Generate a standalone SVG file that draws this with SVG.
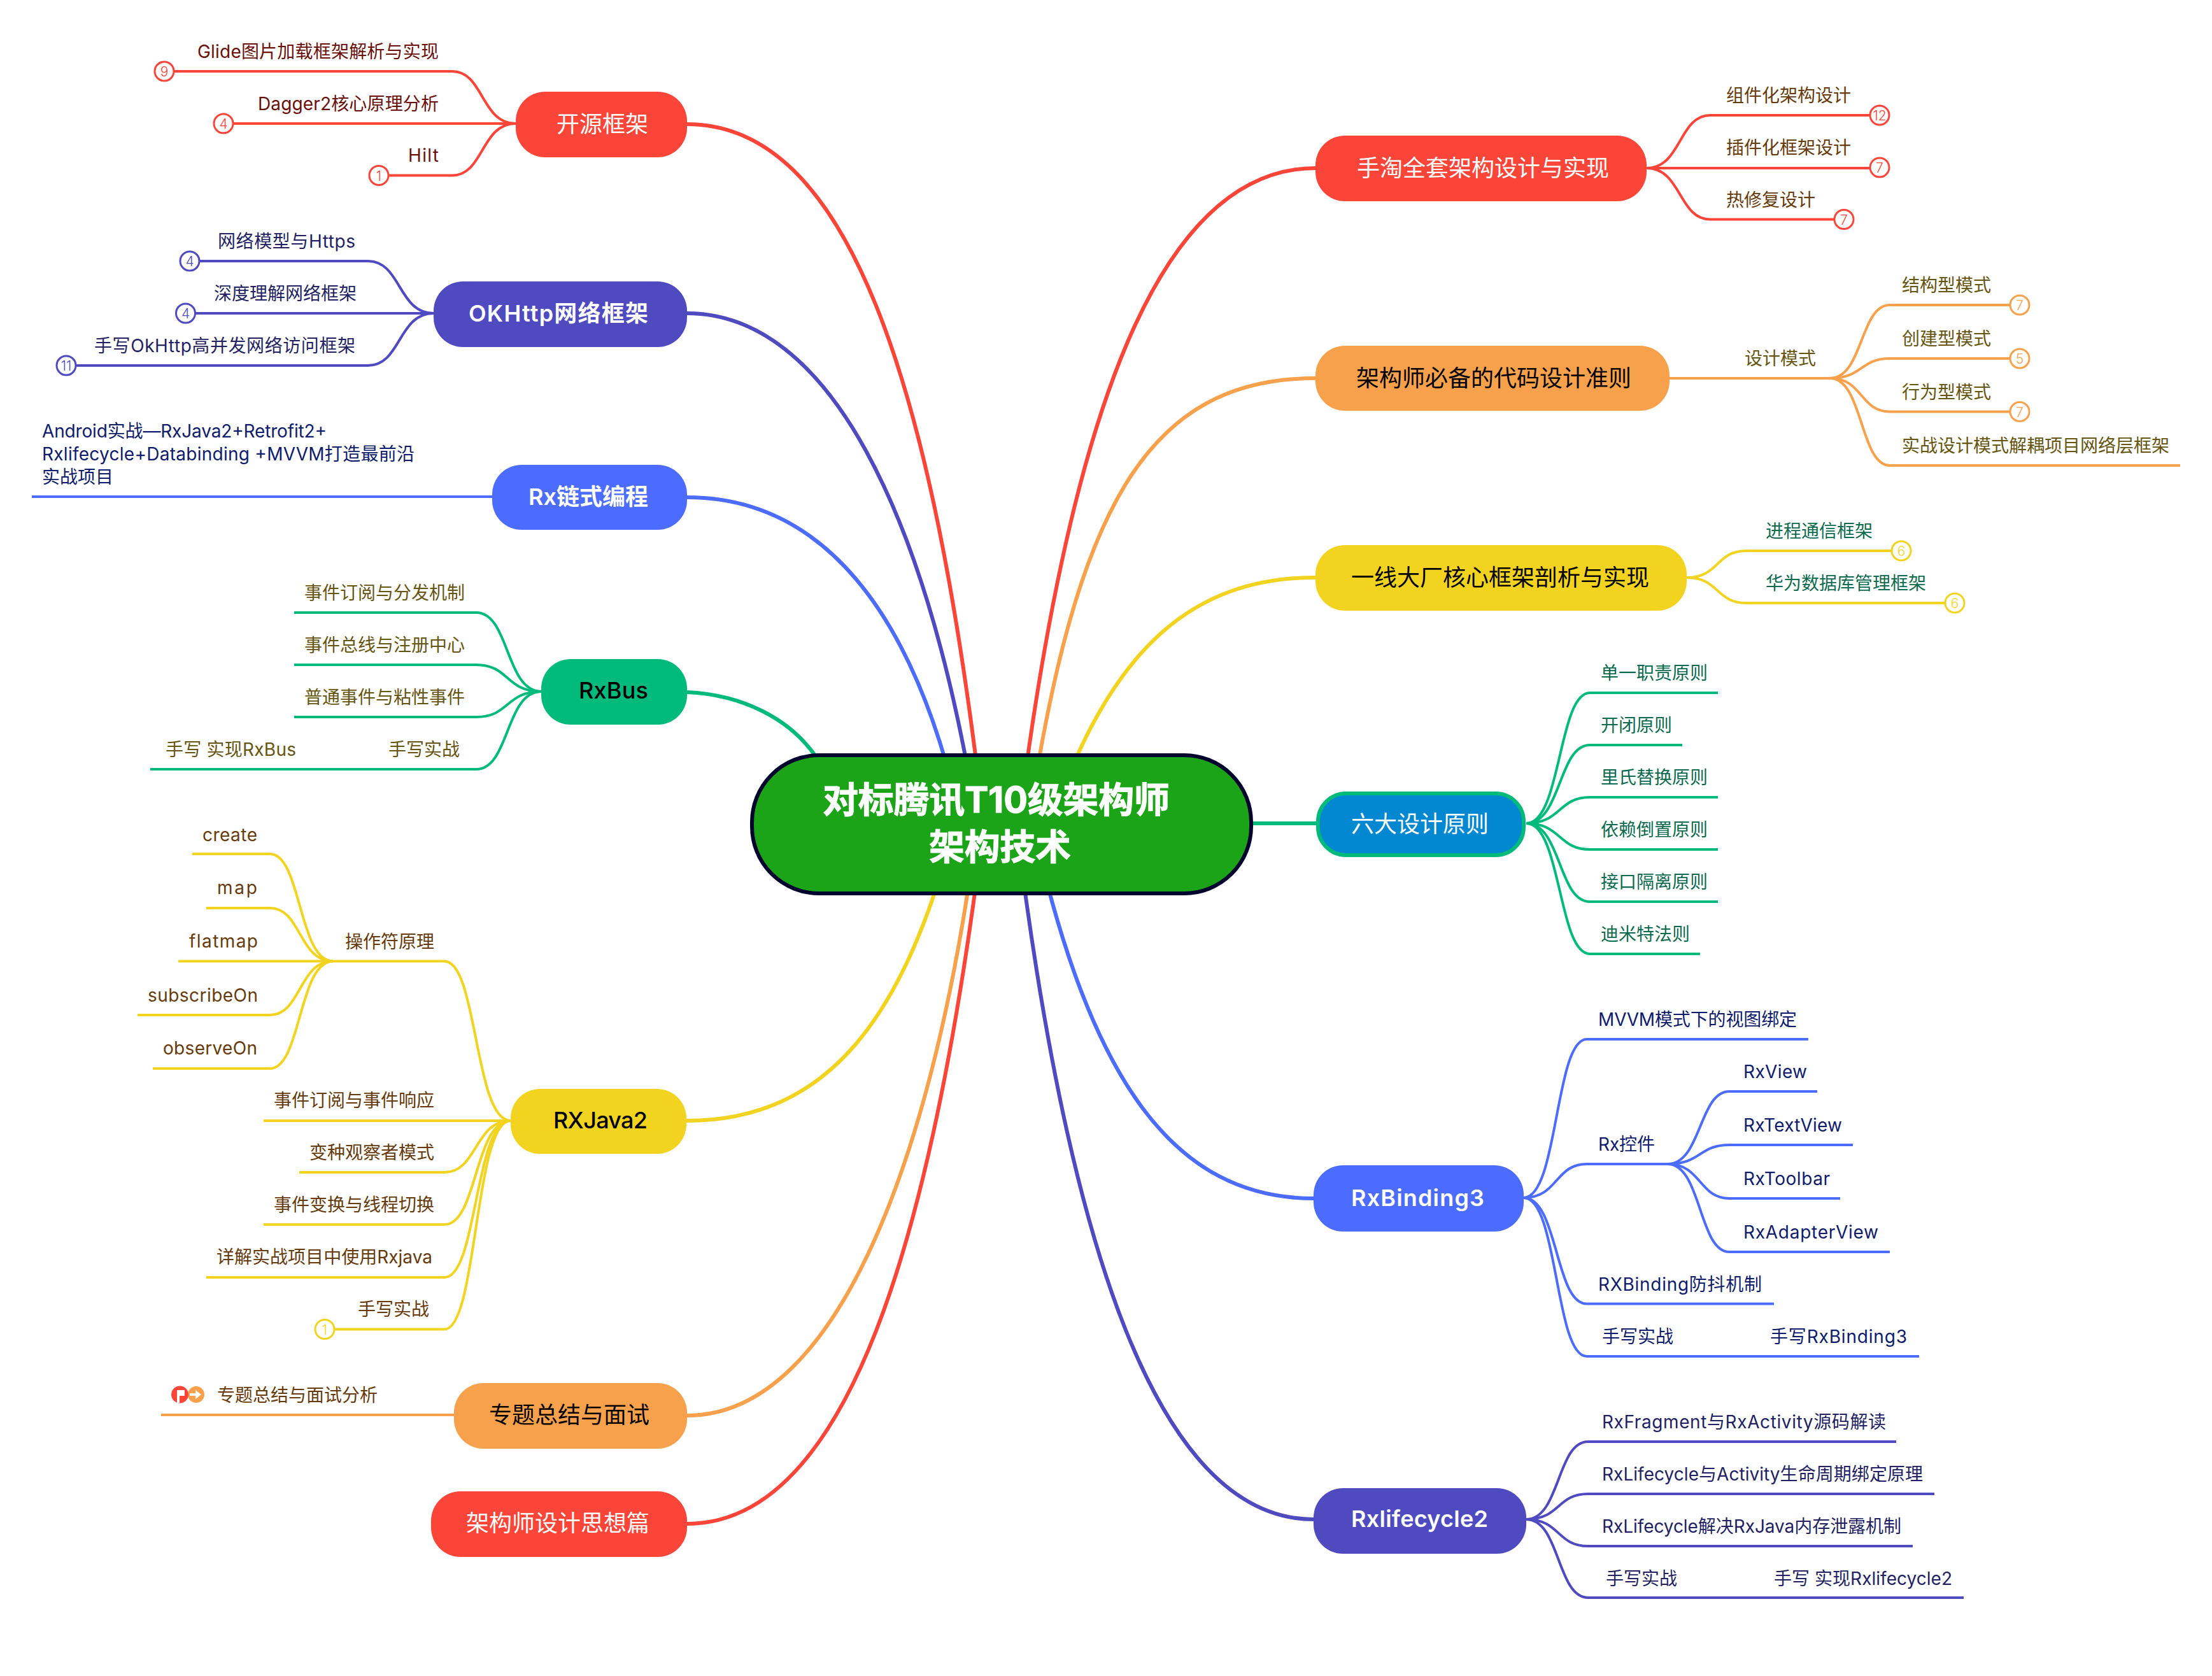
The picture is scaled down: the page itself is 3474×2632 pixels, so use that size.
<svg xmlns="http://www.w3.org/2000/svg" width="3474" height="2632" viewBox="0 0 3474 2632">
<style>
text{font-family:"Inter","Noto Sans CJK SC","Noto Sans",sans-serif}
.c{fill:none;stroke-linecap:butt;stroke-width:4}
.m{fill:none;stroke-width:6}
.red{stroke:#fc4539}.ind{stroke:#4f4abf}.blu{stroke:#4c6cff}.grn{stroke:#00ba7c}.yel{stroke:#f2d420}.org{stroke:#f7a14c}
.t{font-size:28px}
.n{font-size:36px;fill:#000}
.w{fill:#fff}
.b{font-weight:600}
.rt{font-size:56px;font-weight:700;fill:#fff;stroke:#fff;stroke-width:1}
.tr{fill:#6b0f0a}.ti{fill:#231f63}.tb{fill:#0e1c6b}.to{fill:#665510}.ty{fill:#663a0a}.tg{fill:#0c6b4f}
.bd{fill:#fff;stroke-width:3}
.bt{font-size:21px;font-weight:300;text-anchor:middle}
.nr{fill:#fc4539}.ni{fill:#4f4abf}.nb{fill:#4c6cff}.ng{fill:#00ba7c}.ny{fill:#f2d420}.no{fill:#f7a14c}
</style>
<rect width="3474" height="2632" fill="#fff"/>
<g id="connectors">
<path class="m red" d="M1079,195C1330,195 1465,590 1545,1294"/>
<path class="m ind" d="M1079,492C1300,492 1455,800 1535,1294"/>
<path class="m blu" d="M1079,781C1285,781 1435,950 1510,1294"/>
<path class="m grn" d="M1079,1087C1150,1090 1250,1120 1297,1215"/>
<path class="m yel" d="M1078,1760C1300,1760 1420,1600 1500,1294"/>
<path class="m org" d="M1079,2223C1320,2223 1470,1800 1535,1294"/>
<path class="m red" d="M1079,2393C1330,2393 1465,1950 1545,1294"/>
<path class="m red" d="M2066,264C1820,264 1680,650 1600,1294"/>
<path class="m org" d="M2066,594C1800,594 1690,800 1615,1294"/>
<path class="m yel" d="M2066,907C1880,907 1745,1010 1650,1294"/>
<path class="m grn" d="M1968,1293H2067"/>
<path class="m blu" d="M2063,1882C1845,1882 1712,1700 1622,1294"/>
<path class="m ind" d="M2063,2386C1816,2386 1676,1950 1596,1294"/>

<path class="c red" d="M810,194C755,194 760,112 710,112H274"/>
<path class="c red" d="M810,194H367"/>
<path class="c red" d="M810,194C755,194 760,275.500 710,275.500H611"/>
<path class="c ind" d="M681,492C625,492 630,410 578,410H314"/>
<path class="c ind" d="M681,492H307"/>
<path class="c ind" d="M681,492C625,492 630,574 578,574H120"/>
<path class="c blu" d="M773,780H50"/>
<path class="c grn" d="M850,1086C794,1086 800,962 748,962H462"/>
<path class="c grn" d="M850,1086C794,1086 800,1044 748,1044H462"/>
<path class="c grn" d="M850,1086C794,1086 800,1126 748,1126H462"/>
<path class="c grn" d="M850,1086C794,1086 800,1208 748,1208H236"/>
<path class="c yel" d="M802,1760C745,1760 750,1509.500 698,1509.500H523"/>
<path class="c yel" d="M523,1509.500C469,1509.500 473,1341 424,1341H302"/>
<path class="c yel" d="M523,1509.500C469,1509.500 473,1426 424,1426H324"/>
<path class="c yel" d="M523,1509.500H280"/>
<path class="c yel" d="M523,1509.500C469,1509.500 473,1594 424,1594H216"/>
<path class="c yel" d="M523,1509.500C469,1509.500 473,1678 424,1678H240"/>
<path class="c yel" d="M802,1760H414"/>
<path class="c yel" d="M802,1760C745,1760 750,1841 698,1841H470"/>
<path class="c yel" d="M802,1760C745,1760 750,1923 698,1923H414"/>
<path class="c yel" d="M802,1760C745,1760 750,2006 698,2006H324"/>
<path class="c yel" d="M802,1760C745,1760 750,2087.500 698,2087.500H526"/>
<path class="c org" d="M713,2222H253"/>
<path class="c red" d="M2586,264C2641,264 2636,181 2686,181H2936"/>
<path class="c red" d="M2586,264H2936"/>
<path class="c red" d="M2586,264C2641,264 2636,344.500 2686,344.500H2880"/>
<path class="c org" d="M2622,594H2874"/>
<path class="c org" d="M2874,594C2926,594 2921,479 2968,479H3156"/>
<path class="c org" d="M2874,594C2926,594 2921,563 2968,563H3156"/>
<path class="c org" d="M2874,594C2926,594 2921,646.500 2968,646.500H3156"/>
<path class="c org" d="M2874,594C2926,594 2921,731 2968,731H3424"/>
<path class="c yel" d="M2649,907C2700,907 2695,865 2742,865H2970"/>
<path class="c yel" d="M2649,907C2700,907 2695,947 2742,947H3054"/>
<path class="c grn" d="M2397,1293C2452,1293 2447,1088 2497,1088H2698"/>
<path class="c grn" d="M2397,1293C2452,1293 2447,1170 2497,1170H2642"/>
<path class="c grn" d="M2397,1293C2452,1293 2447,1252 2497,1252H2698"/>
<path class="c grn" d="M2397,1293C2452,1293 2447,1334 2497,1334H2698"/>
<path class="c grn" d="M2397,1293C2452,1293 2447,1416 2497,1416H2698"/>
<path class="c grn" d="M2397,1293C2452,1293 2447,1498 2497,1498H2670"/>
<path class="c blu" d="M2393,1881C2447,1881 2442,1632 2492,1632H2840"/>
<path class="c blu" d="M2393,1881C2447,1881 2442,1828 2492,1828H2619"/>
<path class="c blu" d="M2619,1828C2672,1828 2668,1714 2716,1714H2854"/>
<path class="c blu" d="M2619,1828C2672,1828 2668,1798 2716,1798H2910"/>
<path class="c blu" d="M2619,1828C2672,1828 2668,1882 2716,1882H2890"/>
<path class="c blu" d="M2619,1828C2672,1828 2668,1966 2716,1966H2968"/>
<path class="c blu" d="M2393,1881C2447,1881 2442,2047.500 2492,2047.500H2786"/>
<path class="c blu" d="M2393,1881C2447,1881 2442,2130 2492,2130H3014"/>
<path class="c ind" d="M2397,2386C2450,2386 2445,2264 2494,2264H2978"/>
<path class="c ind" d="M2397,2386C2450,2386 2445,2346 2494,2346H3038"/>
<path class="c ind" d="M2397,2386C2450,2386 2445,2428 2494,2428H3004"/>
<path class="c ind" d="M2397,2386C2450,2386 2445,2509 2494,2509H3084"/>
</g>

<g id="root">
<rect x="1181" y="1186" width="784" height="217" rx="105" fill="#1ba418" stroke="#02022e" stroke-width="6"/>
<text class="rt" x="1292" y="1276" textLength="545">对标腾讯T10级架构师</text>
<text class="rt" x="1459" y="1350" textLength="223">架构技术</text>
</g>

<g id="n-kaiyuan"><rect class="nr" x="810" y="144" width="269" height="103" rx="46"/><text class="n w" x="874" y="208">开源框架</text></g>
<g id="n-okhttp"><rect class="ni" x="681" y="442" width="398" height="103" rx="46"/><text class="n w b" x="736" y="505" textLength="282">OKHttp网络框架</text></g>
<g id="n-rx"><rect class="nb" x="773" y="730" width="306" height="102" rx="46"/><text class="n w b" x="830" y="793" textLength="188">Rx链式编程</text></g>
<g id="n-rxbus"><rect class="ng" x="850" y="1035" width="229" height="103" rx="46"/><text class="n" font-weight="500" x="909" y="1097" textLength="109">RxBus</text></g>
<g id="n-rxjava"><rect class="ny" x="802" y="1710" width="276" height="102" rx="46"/><text class="n" font-weight="500" x="869" y="1772" textLength="148">RXJava2</text></g>
<g id="n-zhuanti"><rect class="no" x="713" y="2172" width="366" height="103" rx="46"/><text class="n" x="768" y="2235">专题总结与面试</text></g>
<g id="n-sixiang"><rect class="nr" x="677" y="2342" width="402" height="103" rx="46"/><text class="n w" x="732" y="2405">架构师设计思想篇</text></g>
<g id="n-shoutao"><rect class="nr" x="2066" y="213" width="520" height="103" rx="46"/><text class="n w" x="2131" y="277">手淘全套架构设计与实现</text></g>
<g id="n-jiagou"><rect class="no" x="2066" y="543" width="556" height="102" rx="46"/><text class="n" x="2130" y="607">架构师必备的代码设计准则</text></g>
<g id="n-yixian"><rect class="ny" x="2066" y="856" width="583" height="103" rx="46"/><text class="n" x="2122" y="920">一线大厂核心框架剖析与实现</text></g>
<g id="n-liuda"><rect x="2070" y="1246" width="323" height="97" rx="44" fill="#0288d1" stroke="#00ba7c" stroke-width="6"/><text class="n w" x="2122" y="1307">六大设计原则</text></g>
<g id="n-rxbinding"><rect class="nb" x="2063" y="1830" width="330" height="104" rx="46"/><text class="n w b" x="2122" y="1894" textLength="209">RxBinding3</text></g>
<g id="n-rxlifecycle"><rect class="ni" x="2063" y="2337" width="334" height="103" rx="46"/><text class="n w b" x="2122" y="2398" textLength="215">Rxlifecycle2</text></g>

<g id="sub-kaiyuan">
<text class="t tr" x="310" y="91" textLength="379">Glide图片加载框架解析与实现</text>
<circle class="bd red" cx="258" cy="112" r="15"/><text class="bt" fill="#fc4539" x="258" y="120">9</text>
<text class="t tr" x="405" y="173" textLength="284">Dagger2核心原理分析</text>
<circle class="bd red" cx="351" cy="194" r="15"/><text class="bt" fill="#fc4539" x="351" y="202">4</text>
<text class="t tr" x="641" y="254" textLength="48">Hilt</text>
<circle class="bd red" cx="595" cy="275.500" r="15"/><text class="bt" fill="#fc4539" x="595" y="283.500">1</text>
</g>
<g id="sub-okhttp">
<text class="t ti" x="342" y="389" textLength="216">网络模型与Https</text>
<circle class="bd ind" cx="298" cy="410" r="15"/><text class="bt" fill="#4f4abf" x="298" y="418">4</text>
<text class="t ti" x="336" y="471">深度理解网络框架</text>
<circle class="bd ind" cx="291.500" cy="492" r="15"/><text class="bt" fill="#4f4abf" x="291.500" y="500">4</text>
<text class="t ti" x="148" y="553" textLength="410">手写OkHttp高并发网络访问框架</text>
<circle class="bd ind" cx="104" cy="574" r="15"/><text class="bt" fill="#4f4abf" x="104" y="582">11</text>
</g>
<g id="sub-rx">
<text class="t tb" x="66" y="687" textLength="447">Android实战—RxJava2+Retrofit2+</text>
<text class="t tb" x="66" y="723" textLength="585">Rxlifecycle+Databinding +MVVM打造最前沿</text>
<text class="t tb" x="66" y="759">实战项目</text>
</g>
<g id="sub-rxbus">
<text class="t to" x="478" y="941">事件订阅与分发机制</text>
<text class="t to" x="478" y="1023">事件总线与注册中心</text>
<text class="t to" x="478" y="1105">普通事件与粘性事件</text>
<text class="t to" x="610" y="1187">手写实战</text>
<text class="t to" x="260" y="1187" textLength="205">手写 实现RxBus</text>
</g>
<g id="sub-rxjava">
<text class="t ty" x="542" y="1489">操作符原理</text>
<text class="t ty" x="318" y="1321" textLength="86">create</text>
<text class="t ty" x="341" y="1404" textLength="63">map</text>
<text class="t ty" x="297" y="1488" textLength="108">flatmap</text>
<text class="t ty" x="232" y="1573" textLength="173">subscribeOn</text>
<text class="t ty" x="256" y="1656" textLength="148">observeOn</text>
<text class="t ty" x="430" y="1738">事件订阅与事件响应</text>
<text class="t ty" x="486" y="1820">变种观察者模式</text>
<text class="t ty" x="430" y="1902">事件变换与线程切换</text>
<text class="t ty" x="340" y="1984" textLength="339">详解实战项目中使用Rxjava</text>
<text class="t ty" x="562" y="2066">手写实战</text>
<circle class="bd yel" cx="510" cy="2087.500" r="15"/><text class="bt" fill="#f2d420" x="510" y="2095.500">1</text>
</g>
<g id="sub-zhuanti">
<circle class="no" cx="308" cy="2190" r="13"/>
<path fill="#fff" d="M298,2188H307V2183L316,2190L307,2197V2192H298Z"/>
<circle class="nr" cx="282.500" cy="2190" r="13.500"/>
<path fill="#fff" d="M278,2183H290V2192H282V2203H278Z"/>
<text class="t ty" x="341" y="2201">专题总结与面试分析</text>
</g>
<g id="sub-shoutao">
<text class="t ty" x="2711" y="160">组件化架构设计</text>
<circle class="bd red" cx="2952" cy="181" r="15"/><text class="bt" fill="#fc4539" x="2952" y="189">12</text>
<text class="t ty" x="2711" y="242">插件化框架设计</text>
<circle class="bd red" cx="2952" cy="263" r="15"/><text class="bt" fill="#fc4539" x="2952" y="271">7</text>
<text class="t ty" x="2711" y="324">热修复设计</text>
<circle class="bd red" cx="2896" cy="344.500" r="15"/><text class="bt" fill="#fc4539" x="2896" y="352.500">7</text>
</g>
<g id="sub-jiagou">
<text class="t to" x="2740" y="573">设计模式</text>
<text class="t to" x="2987" y="458">结构型模式</text>
<circle class="bd org" cx="3172" cy="479" r="15"/><text class="bt" fill="#f7a14c" x="3172" y="487">7</text>
<text class="t to" x="2987" y="542">创建型模式</text>
<circle class="bd org" cx="3172" cy="563" r="15"/><text class="bt" fill="#f7a14c" x="3172" y="571">5</text>
<text class="t to" x="2987" y="626">行为型模式</text>
<circle class="bd org" cx="3172" cy="646.500" r="15"/><text class="bt" fill="#f7a14c" x="3172" y="654.500">7</text>
<text class="t to" x="2987" y="710">实战设计模式解耦项目网络层框架</text>
</g>
<g id="sub-yixian">
<text class="t tg" x="2773" y="844">进程通信框架</text>
<circle class="bd yel" cx="2986" cy="865" r="15"/><text class="bt" fill="#f2d420" x="2986" y="873">6</text>
<text class="t tg" x="2773" y="926">华为数据库管理框架</text>
<circle class="bd yel" cx="3070" cy="947" r="15"/><text class="bt" fill="#f2d420" x="3070" y="955">6</text>
</g>
<g id="sub-liuda">
<text class="t tg" x="2514" y="1067">单一职责原则</text>
<text class="t tg" x="2514" y="1149">开闭原则</text>
<text class="t tg" x="2514" y="1231">里氏替换原则</text>
<text class="t tg" x="2514" y="1313">依赖倒置原则</text>
<text class="t tg" x="2514" y="1395">接口隔离原则</text>
<text class="t tg" x="2514" y="1477">迪米特法则</text>
</g>
<g id="sub-rxbinding">
<text class="t tb" x="2510" y="1611" textLength="312">MVVM模式下的视图绑定</text>
<text class="t tb" x="2510" y="1807" textLength="89">Rx控件</text>
<text class="t tb" x="2738" y="1693" textLength="100">RxView</text>
<text class="t tb" x="2738" y="1777" textLength="155">RxTextView</text>
<text class="t tb" x="2738" y="1861" textLength="136">RxToolbar</text>
<text class="t tb" x="2738" y="1945" textLength="212">RxAdapterView</text>
<text class="t tb" x="2510" y="2027" textLength="257">RXBinding防抖机制</text>
<text class="t tb" x="2516" y="2109">手写实战</text>
<text class="t tb" x="2780" y="2109" textLength="215">手写RxBinding3</text>
</g>
<g id="sub-rxlifecycle">
<text class="t ti" x="2516" y="2243" textLength="446">RxFragment与RxActivity源码解读</text>
<text class="t ti" x="2516" y="2325" textLength="504">RxLifecycle与Activity生命周期绑定原理</text>
<text class="t ti" x="2516" y="2407" textLength="470">RxLifecycle解决RxJava内存泄露机制</text>
<text class="t ti" x="2522" y="2489">手写实战</text>
<text class="t ti" x="2786" y="2489" textLength="280">手写 实现Rxlifecycle2</text>
</g>
</svg>
